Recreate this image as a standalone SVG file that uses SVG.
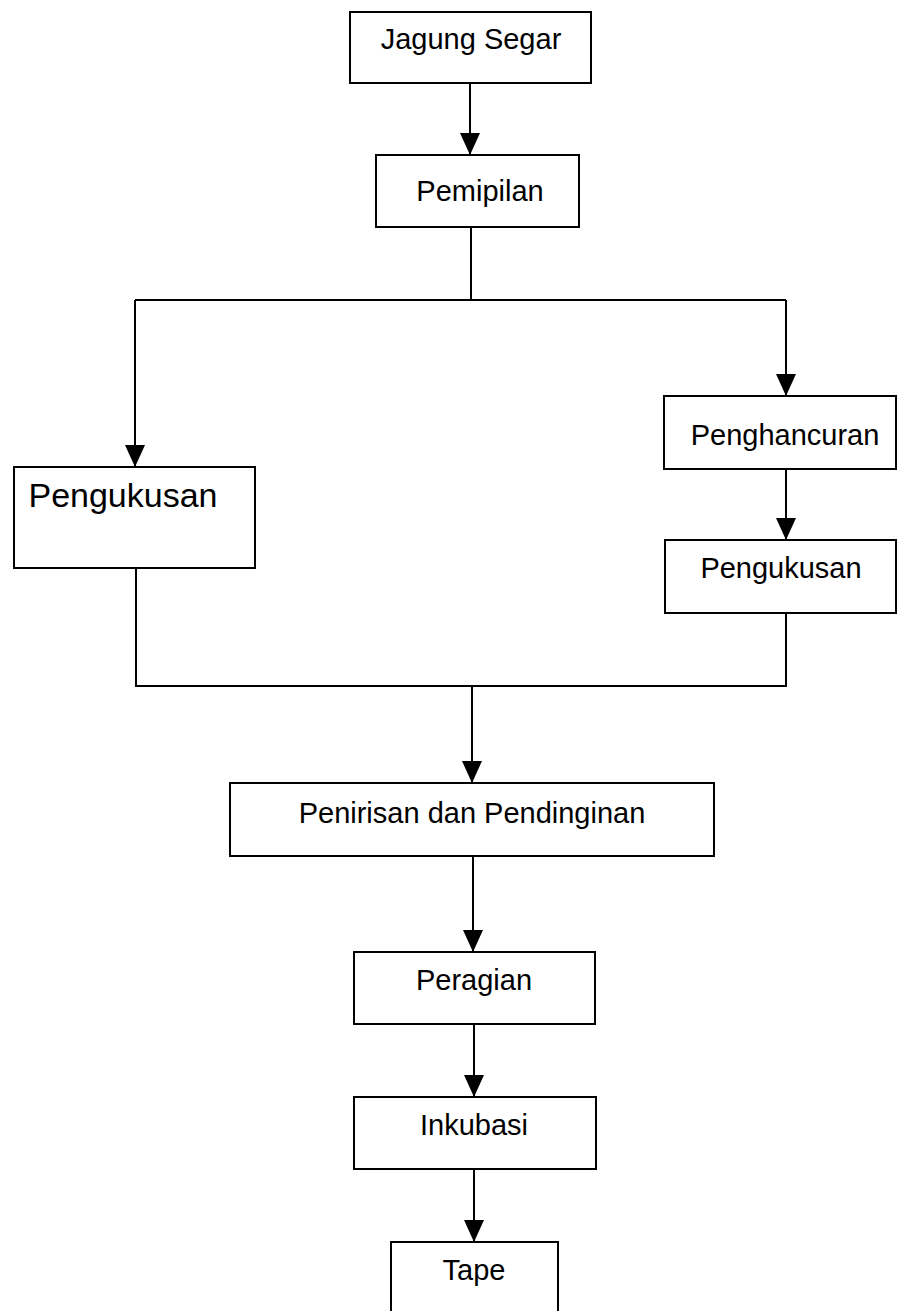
<svg xmlns="http://www.w3.org/2000/svg" width="897" height="1311" viewBox="0 0 897 1311">
<defs>
<style>
.box{fill:#fff;stroke:#000;stroke-width:2}
.lbl{font-family:"Liberation Sans",Arial,sans-serif;font-size:29px;fill:#000;text-anchor:middle}
.con{fill:none;stroke:#000;stroke-width:2}
.arr{marker-end:url(#ah)}
</style>
<marker id="ah" markerUnits="userSpaceOnUse" markerWidth="22" markerHeight="20" refX="22" refY="10" orient="auto">
<path d="M0,0 L22,10 L0,20 z" fill="#000"/>
</marker>
</defs>
<rect width="897" height="1311" fill="#fff"/>
<g id="connectors">
<line class="con arr" x1="470" y1="83" x2="470" y2="155"/>
<line class="con" x1="471" y1="227" x2="471" y2="300"/>
<line class="con" x1="135" y1="300" x2="786" y2="300"/>
<line class="con arr" x1="135" y1="300" x2="135" y2="467"/>
<line class="con arr" x1="786" y1="300" x2="786" y2="396"/>
<line class="con arr" x1="786" y1="469" x2="786" y2="540"/>
<line class="con" x1="136" y1="568" x2="136" y2="686"/>
<line class="con" x1="786" y1="613" x2="786" y2="686"/>
<line class="con" x1="135" y1="686" x2="787" y2="686"/>
<line class="con arr" x1="472" y1="686" x2="472" y2="783"/>
<line class="con arr" x1="473" y1="856" x2="473" y2="952"/>
<line class="con arr" x1="474" y1="1024" x2="474" y2="1097"/>
<line class="con arr" x1="474" y1="1169" x2="474" y2="1242"/>
</g>
<g id="jagung-segar"><rect class="box" x="350" y="12" width="241" height="71"/><text class="lbl" x="471" y="49">Jagung Segar</text></g>
<g id="pemipilan"><rect class="box" x="376" y="155" width="203" height="72"/><text class="lbl" x="480" y="201">Pemipilan</text></g>
<g id="pengukusan-kiri"><rect class="box" x="14" y="467" width="241" height="101"/><text class="lbl" x="123" y="507" style="font-size:34px">Pengukusan</text></g>
<g id="penghancuran"><rect class="box" x="664" y="396" width="232" height="73"/><text class="lbl" x="785" y="445">Penghancuran</text></g>
<g id="pengukusan-kanan"><rect class="box" x="665" y="540" width="231" height="73"/><text class="lbl" x="781" y="578">Pengukusan</text></g>
<g id="penirisan"><rect class="box" x="230" y="783" width="484" height="73"/><text class="lbl" x="472" y="823">Penirisan dan Pendinginan</text></g>
<g id="peragian"><rect class="box" x="354" y="952" width="241" height="72"/><text class="lbl" x="474" y="990">Peragian</text></g>
<g id="inkubasi"><rect class="box" x="354" y="1097" width="242" height="72"/><text class="lbl" x="474" y="1135">Inkubasi</text></g>
<g id="tape"><rect class="box" x="391" y="1242" width="167" height="80"/><text class="lbl" x="474" y="1280">Tape</text></g>
</svg>
